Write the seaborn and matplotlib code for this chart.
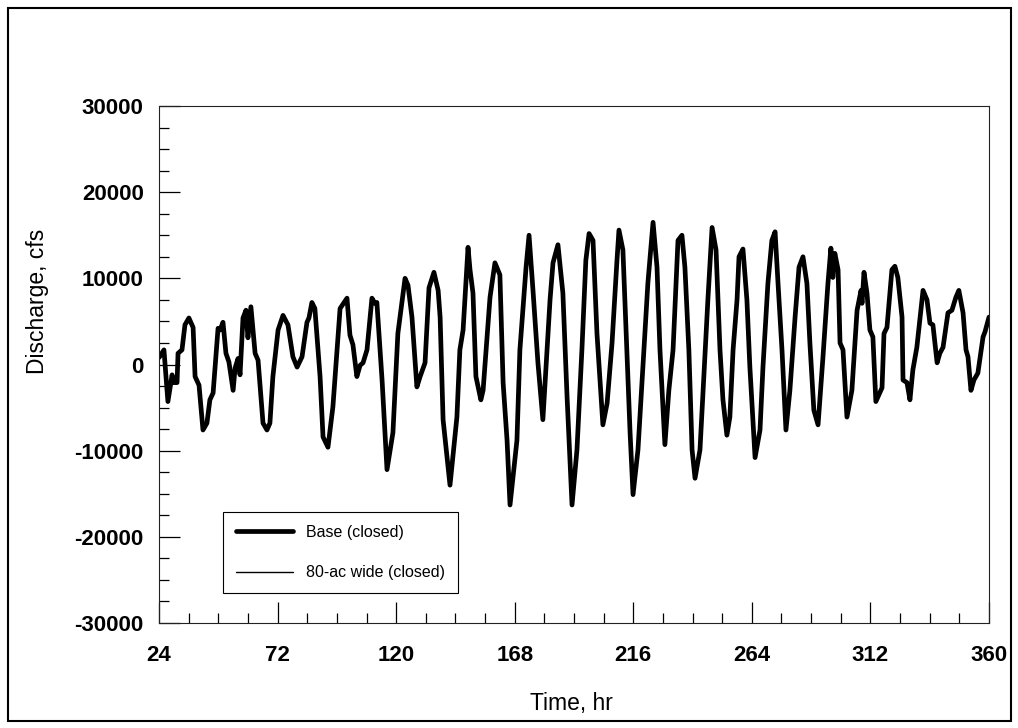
import pandas as pd
import matplotlib.pyplot as plt
from matplotlib.patches import Rectangle
from matplotlib.ticker import MultipleLocator
import seaborn as sns

# Time (hr) and discharge (cfs)
hours = [24.0, 26.0, 27.6, 29.3, 29.7, 31.3, 31.7, 33.3, 34.5, 36.1, 37.8, 38.6,
         40.2, 41.8, 43.4, 44.6, 45.9, 47.9, 48.7, 49.9, 51.1, 52.3, 54.0, 54.8,
         56.0, 56.8, 58.0, 59.2, 60.0, 61.2, 62.9, 64.1, 66.1, 67.7, 68.9, 70.1,
         72.2, 74.2, 76.2, 78.2, 79.9, 81.9, 83.9, 84.7, 85.9, 87.1, 89.2, 90.4,
         92.4, 94.4, 97.3, 100.1, 101.3, 102.5, 104.1, 105.4, 106.6, 108.2, 110.2,
         111.4, 112.2, 114.3, 116.3, 118.7, 120.7, 123.6, 124.8, 126.4, 128.4,
         129.7, 131.7, 133.3, 135.3, 137.0, 137.8, 139.0, 141.8, 144.6, 145.8,
         147.1, 149.1, 149.9, 151.1, 152.3, 154.3, 155.2, 158.0, 160.0, 162.0,
         163.3, 164.9, 166.1, 168.9, 170.1, 172.6, 173.8, 175.4, 177.4, 179.4,
         180.3, 182.3, 183.5, 185.5, 187.5, 189.2, 191.2, 193.2, 195.2, 196.8,
         198.1, 199.7, 201.3, 203.7, 205.4, 207.4, 209.4, 210.2, 211.8, 213.4,
         214.7, 215.9, 217.9, 219.9, 221.9, 224.0, 225.6, 226.8, 228.8, 230.4,
         232.1, 234.1, 235.7, 236.9, 238.5, 239.8, 241.0, 243.0, 245.0, 246.2,
         247.9, 249.5, 251.1, 252.3, 253.9, 255.1, 256.4, 258.0, 258.8, 260.4,
         262.0, 263.2, 265.3, 267.3, 268.5, 270.5, 272.1, 273.4, 274.6, 276.2,
         277.8, 279.4, 281.5, 283.1, 284.7, 286.3, 287.5, 289.1, 290.8, 292.8,
         294.8, 296.0, 296.8, 297.6, 298.9, 299.7, 300.9, 302.5, 304.5, 306.6,
         308.2, 308.6, 309.4, 310.6, 311.8, 313.0, 314.2, 316.7, 317.5, 318.7,
         320.7, 321.9, 323.1, 324.8, 325.2, 326.8, 328.0, 329.2, 330.8, 333.3,
         334.9, 336.1, 337.3, 339.0, 340.1, 341.4, 343.4, 345.0, 346.6, 347.8,
         349.5, 350.7, 351.5, 352.7, 353.9, 355.5, 357.6, 358.4, 360.0]

base_closed = [800, 1700, -4300, -1200, -2100, -2100, 1300, 1700, 4600, 5400, 4300, -1400,
               -2400, -7600, -6800, -4100, -3300, 4200, 4000, 4900, 1300, 300, -3000, -400,
               700, -1200, 5400, 6300, 3100, 6700, 1300, 500, -6800, -7600, -6800, -1400,
               4000, 5700, 4600, 900, -300, 900, 4900, 5400, 7200, 6500, -1400, -8400,
               -9600, -4900, 6500, 7700, 3400, 2300, -1400, -100, 200, 1700, 7700,
               7100, 7200, -1800, -12200, -7900, 3600, 10000, 9200, 5500, -2600,
               -1400, 200, 8900, 10700, 8600, 5500, -6400, -14000, -6100, 1700,
               4000, 13600, 11000, 8300, -1400, -4100, -3000, 7800, 11800, 10400,
               -2100, -8800, -16300, -8800, 1700, 11300, 15000, 8600, 200, -6400,
               -2100, 7500, 11800, 13900, 8300, -3800, -16300, -9900, 1700, 12100,
               15200, 14400, 3600, -7000, -4500, 2500, 12100, 15600, 13300, 1700,
               -7900, -15100, -9900, -300, 9400, 16500, 11300, 1700, -9300, -3000,
               1700, 14400, 15000, 11300, 1700, -9900, -13200, -9900, 900, 7500,
               15900, 13300, 1700, -4100, -8200, -6100, 1700, 7500, 12500, 13400,
               7500, -300, -10800, -7600, -300, 9400, 14400, 15400, 9400, 1700,
               -7600, -3000, 5500, 11300, 12500, 9400, 2500, -5300, -7000, 900,
               9400, 13500, 10100, 12900, 11000, 2500, 1700, -6100, -3000, 6300,
               8600, 7100, 10700, 8300, 4000, 3200, -4300, -2700, 3600, 4300,
               11000, 11400, 10100, 5500, -1800, -2100, -4100, -600, 2000, 8600,
               7500, 4800, 4600, 200, 1300, 2000, 6000, 6300, 7800, 8600,
               6000, 1700, 900, -3000, -1800, -1000, 3200, 3800, 5500]

# the 80-ac wide run plots directly underneath the base run
wide_closed = list(base_closed)

df = pd.DataFrame({'hours': hours, 'base': base_closed, 'wide': wide_closed})

sns.set_style('ticks')
plt.rcParams['font.family'] = ['Liberation Sans', 'DejaVu Sans']
plt.rcParams['axes.unicode_minus'] = False
plt.rcParams['text.color'] = 'black'
plt.rcParams['axes.labelcolor'] = 'black'
plt.rcParams['xtick.color'] = 'black'
plt.rcParams['ytick.color'] = 'black'

fig = plt.figure(figsize=(10.18, 7.28), dpi=100)
ax = fig.add_axes([0.1562, 0.1442, 0.8153, 0.7102])

sns.lineplot(data=df, x='hours', y='base', ax=ax, color='black', linewidth=3.4,
             estimator=None, label='Base (closed)')
sns.lineplot(data=df, x='hours', y='wide', ax=ax, color='black', linewidth=1.0,
             estimator=None, label='80-ac wide (closed)')

ax.set_xlim(24, 360)
ax.set_ylim(-30000, 30000)
ax.xaxis.set_major_locator(MultipleLocator(48, offset=24))
ax.xaxis.set_minor_locator(MultipleLocator(12))
ax.yaxis.set_major_locator(MultipleLocator(10000))
ax.yaxis.set_minor_locator(MultipleLocator(2500))

ax.tick_params(which='both', direction='in', color='black', labelcolor='black',
               width=0.9, top=False, right=False)
ax.tick_params(which='major', length=15)
ax.tick_params(which='minor', length=7)
ax.tick_params(axis='x', which='major', pad=16, labelsize=16)
ax.tick_params(axis='y', which='major', pad=11, labelsize=16)
for lbl in ax.get_xticklabels() + ax.get_yticklabels():
    lbl.set_fontweight('bold')

for side in ['top', 'right', 'bottom', 'left']:
    ax.spines[side].set_linewidth(0.8)
    ax.spines[side].set_color('#222222')

ax.set_xlabel('Time, hr', fontsize=16.5, color='black')
ax.set_ylabel('Discharge, cfs', fontsize=16.5, color='black')
ax.xaxis.set_label_coords(0.497, -0.133)
ax.yaxis.set_label_coords(-0.132, 0.623)

leg = ax.legend(loc='lower left', bbox_to_anchor=(0.077, 0.058), fontsize=11.5,
                frameon=True, fancybox=False, borderpad=0.8, labelspacing=1.6,
                handlelength=3.6, handletextpad=0.8, borderaxespad=0)
leg.get_frame().set_edgecolor('black')
leg.get_frame().set_linewidth(0.8)
leg.get_frame().set_alpha(1)
for txt in leg.get_texts():
    txt.set_color('black')

# outer frame around the whole page
fig.add_artist(Rectangle((8 / 1018, 7 / 728), 1003 / 1018, 713 / 728,
                         transform=fig.transFigure, fill=False,
                         edgecolor='black', linewidth=1.5))

fig.savefig('out.png', dpi=100)
